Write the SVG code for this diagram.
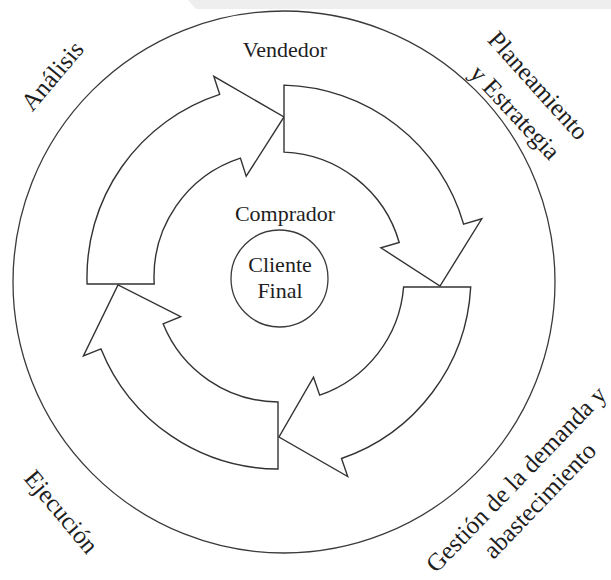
<svg xmlns="http://www.w3.org/2000/svg" width="611" height="580" viewBox="0 0 611 580">
  <style>
    .ring { fill: none; stroke: #3a3a3a; stroke-width: 1.3; }
    .arrow { fill: #ffffff; stroke: #333333; stroke-width: 1.4; stroke-linejoin: miter; }
    .lbl { font-family: "Liberation Serif", "Times New Roman", serif; fill: #1e1e1e; text-anchor: middle; }
    .in { font-size: 22px; }
    .out { font-size: 25px; }
  </style>
  <rect width="611" height="580" fill="#ffffff"/>
  <!-- pale strip along the top edge -->
  <polygon points="188,0 611,0 611,9 196,9" fill="#eeeeee"/>

  <!-- outer boundary -->
  <g id="outer-circle">
    <circle class="ring" cx="284" cy="282" r="271"/>
  </g>

  <!-- cycle of four curved arrows -->
  <g id="connectors">
    <path class="arrow" d="M87.1,284 A192,192 0 0 1 219.7,94.4 L213.8,76.3 L284,117 L246.2,176.2 L240.4,158.1 A125,125 0 0 0 154.2,284 Z"/>
    <path class="arrow" d="M284,85.1 A192,192 0 0 1 463.6,224.1 L481.8,218.8 L440,286 L380.9,247.8 L399.2,242.5 A125,125 0 0 0 284,152.1 Z"/>
    <path class="arrow" d="M470.7,287 A192,192 0 0 1 341.5,458.5 L347.7,476.5 L279,437 L313.5,377.2 L319.7,395.2 A125,125 0 0 0 403.6,287 Z"/>
    <path class="arrow" d="M278,469 A192,192 0 0 1 101,348.9 L83.4,356 L118,285 L180.7,316.7 L163.1,323.8 A125,125 0 0 0 278,402 Z"/>
  </g>

  <!-- centre -->
  <g id="cliente-final">
    <circle class="ring" cx="279.5" cy="278.5" r="48.5"/>
    <text class="lbl in" x="280" y="272">Cliente</text>
    <text class="lbl in" x="280" y="298">Final</text>
  </g>
  <g id="comprador">
    <text class="lbl in" x="285" y="221">Comprador</text>
  </g>
  <g id="vendedor">
    <text class="lbl in" x="285" y="57">Vendedor</text>
  </g>

  <!-- stage labels around the ring -->
  <g id="analisis">
    <text class="lbl out" transform="translate(58.6,81.1) rotate(-50)">Análisis</text>
  </g>
  <g id="planeamiento">
    <text class="lbl out" transform="translate(532,91) rotate(48)">Planeamiento</text>
    <text class="lbl out" transform="translate(509,118) rotate(47)">y Estrategia</text>
  </g>
  <g id="gestion">
    <text class="lbl out" transform="translate(522,485) rotate(-46)">Gestión de la demanda y</text>
    <text class="lbl out" transform="translate(545.5,506) rotate(-46)">abastecimiento</text>
  </g>
  <g id="ejecucion">
    <text class="lbl out" transform="translate(55,517) rotate(50)">Ejecución</text>
  </g>
</svg>
